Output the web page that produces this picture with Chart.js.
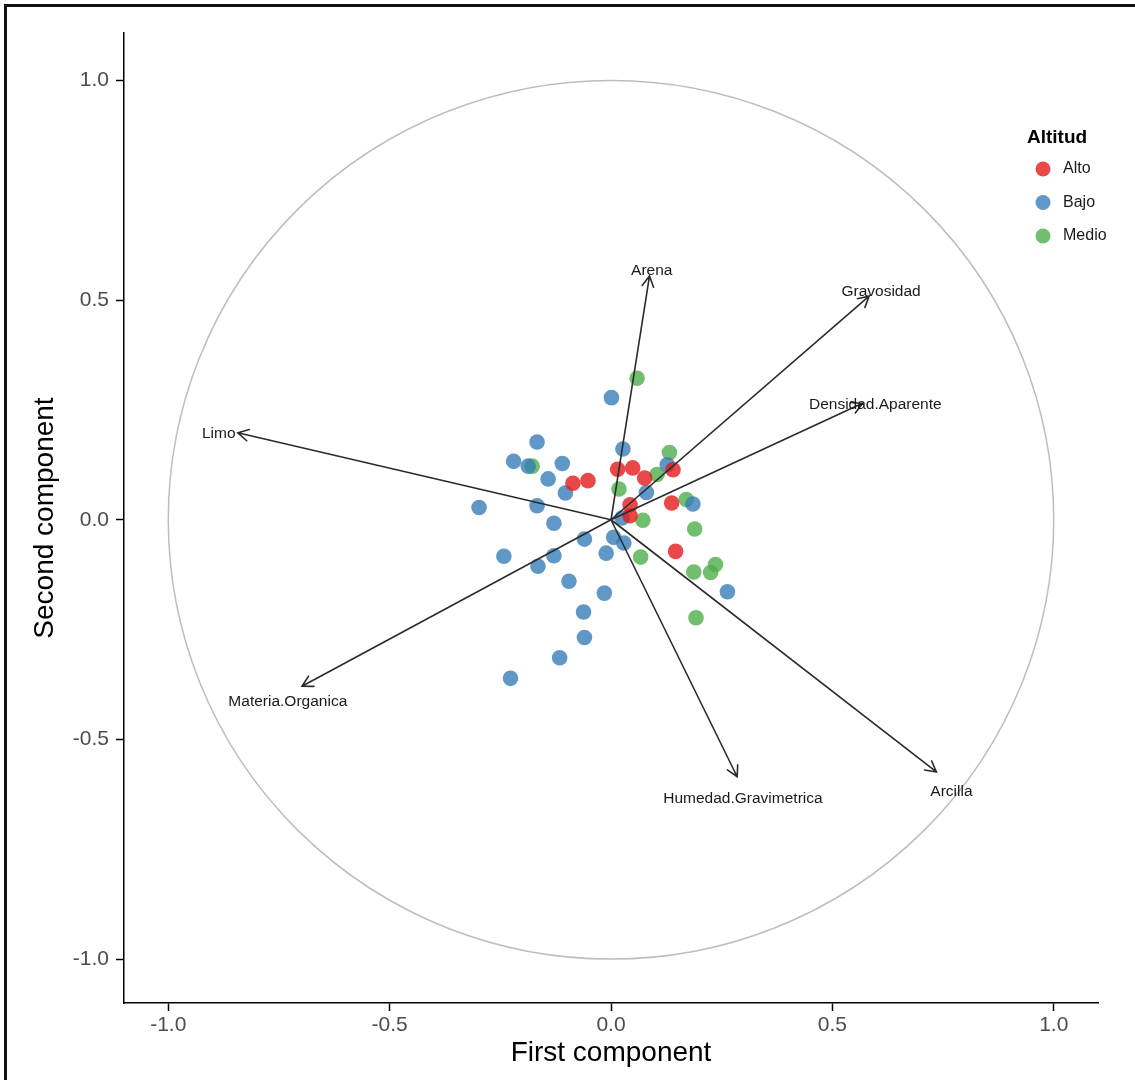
<!DOCTYPE html>
<html>
<head>
<meta charset="utf-8">
<script src="https://cdn.jsdelivr.net/npm/chart.js@4.4.1/dist/chart.umd.min.js"></script>
<style>
  html, body { margin: 0; padding: 0; background: #ffffff; }
  #wrap { width: 1135px; height: 1080px; position: relative; }
</style>
</head>
<body>
<div id="wrap"><canvas id="c" width="1135" height="1080"></canvas></div>
<script>
// PCA scores per altitude group (first / second component)
const altoX = [-0.086, -0.052, 0.015, 0.049, 0.076, 0.140, 0.043, 0.043, 0.137, 0.146];
const altoY = [0.083, 0.089, 0.115, 0.118, 0.095, 0.114, 0.034, 0.009, 0.038, -0.072];

const bajoX = [0.001, -0.167, -0.220, -0.187, -0.110, -0.142, 0.027, 0.127, -0.103, 0.080,
               0.185, -0.298, -0.167, -0.129, 0.025, -0.060, 0.006, 0.029, -0.011, -0.242,
               -0.129, -0.165, -0.095, -0.015, 0.263, -0.062, -0.060, -0.116, -0.227];
const bajoY = [0.278, 0.177, 0.133, 0.122, 0.128, 0.093, 0.161, 0.125, 0.061, 0.062,
               0.036, 0.028, 0.032, -0.008, 0.004, -0.044, -0.040, -0.053, -0.076, -0.083,
               -0.082, -0.106, -0.140, -0.167, -0.164, -0.210, -0.268, -0.314, -0.361];

const medioX = [0.059, -0.178, 0.132, 0.104, 0.018, 0.170, 0.072, 0.189, 0.067, 0.187, 0.225, 0.236, 0.192];
const medioY = [0.322, 0.122, 0.153, 0.103, 0.070, 0.046, -0.001, -0.021, -0.085, -0.119, -0.120, -0.102, -0.223];

// Variable loadings (arrow tips) and where their names sit
const varNames = ['Arena', 'Gravosidad', 'Densidad.Aparente', 'Limo', 'Materia.Organica', 'Humedad.Gravimetrica', 'Arcilla'];
const varX = [0.087, 0.583, 0.568, -0.843, -0.698, 0.285, 0.735];
const varY = [0.555, 0.509, 0.265, 0.198, -0.379, -0.585, -0.574];
const labelX = [0.092, 0.610, 0.597, -0.886, -0.730, 0.298, 0.769];
const labelY = [0.568, 0.519, 0.261, 0.195, -0.415, -0.635, -0.620];

const tickValues = [-1.0, -0.5, 0.0, 0.5, 1.0];

const groupNames = ['Alto', 'Bajo', 'Medio'];
const groupColors = ['rgba(228,26,28,0.8)', 'rgba(55,126,184,0.8)', 'rgba(77,175,74,0.8)'];
const legendTitle = 'Altitud';

const FONT = '"Liberation Sans", Arial, sans-serif';

function toPoints(xs, ys) {
  return xs.map((x, i) => ({ x: x, y: ys[i] }));
}

const decor = {
  id: 'biplotDecor',
  beforeDatasetsDraw(chart) {
    // unit correlation circle
    const { ctx, scales: { x, y } } = chart;
    const cx = x.getPixelForValue(0), cy = y.getPixelForValue(0);
    const rx = x.getPixelForValue(1) - cx, ry = cy - y.getPixelForValue(1);
    ctx.save();
    ctx.strokeStyle = '#bdbdbd';
    ctx.lineWidth = 1.5;
    ctx.beginPath();
    ctx.ellipse(cx, cy, rx, ry, 0, 0, Math.PI * 2);
    ctx.stroke();
    ctx.restore();
  },
  afterDatasetsDraw(chart) {
    // loading arrows with open heads and variable names
    const { ctx, scales: { x, y } } = chart;
    const ox = x.getPixelForValue(0), oy = y.getPixelForValue(0);
    ctx.save();
    ctx.strokeStyle = '#2b2b2b';
    ctx.lineWidth = 1.6;
    ctx.lineCap = 'round';
    varNames.forEach((name, i) => {
      const tx = x.getPixelForValue(varX[i]), ty = y.getPixelForValue(varY[i]);
      const a = Math.atan2(ty - oy, tx - ox);
      const L = 12, w = 0.5;
      ctx.beginPath();
      ctx.moveTo(ox, oy);
      ctx.lineTo(tx, ty);
      ctx.moveTo(tx - L * Math.cos(a - w), ty - L * Math.sin(a - w));
      ctx.lineTo(tx, ty);
      ctx.lineTo(tx - L * Math.cos(a + w), ty - L * Math.sin(a + w));
      ctx.stroke();
    });
    ctx.fillStyle = '#1a1a1a';
    ctx.font = '15.5px ' + FONT;
    ctx.textAlign = 'center';
    ctx.textBaseline = 'middle';
    varNames.forEach((name, i) => {
      ctx.fillText(name, x.getPixelForValue(labelX[i]), y.getPixelForValue(labelY[i]));
    });
    ctx.restore();
  },
  afterDraw(chart) {
    const { ctx } = chart;
    ctx.save();
    // legend
    ctx.fillStyle = '#000';
    ctx.font = 'bold 19px ' + FONT;
    ctx.textAlign = 'left';
    ctx.textBaseline = 'middle';
    ctx.fillText(legendTitle, 1027, 138);
    ctx.font = '16px ' + FONT;
    groupNames.forEach((g, i) => {
      const yy = 169 + i * 33.5;
      ctx.fillStyle = groupColors[i];
      ctx.beginPath();
      ctx.arc(1043, yy, 7.5, 0, Math.PI * 2);
      ctx.fill();
      ctx.fillStyle = '#1a1a1a';
      ctx.fillText(g, 1063, yy);
    });
    // outer frame
    ctx.strokeStyle = '#111';
    ctx.lineWidth = 3;
    ctx.beginPath();
    ctx.moveTo(5.5, 1080);
    ctx.lineTo(5.5, 5.5);
    ctx.lineTo(1135, 5.5);
    ctx.stroke();
    ctx.restore();
  }
};

const axisCommon = (title, pad) => ({
  type: 'linear',
  afterBuildTicks: s => { s.ticks = tickValues.map(v => ({ value: v })); },
  ticks: {
    callback: v => v.toFixed(1),
    font: { family: FONT, size: 21 },
    color: '#4d4d4d',
    autoSkip: false,
    maxRotation: 0
  },
  grid: { drawOnChartArea: false, drawTicks: true, tickLength: 8, tickColor: '#000', tickWidth: 1.5 },
  border: { display: true, color: '#000', width: 1.5 },
  title: { display: true, text: title, color: '#000', font: { family: FONT, size: 28 }, padding: pad }
});

const xAxis = axisCommon('First component', { top: 0, bottom: 10 });
xAxis.min = -1.1; xAxis.max = 1.1;
xAxis.ticks.padding = 2;
xAxis.afterFit = s => { s.height = 77; };

const yAxis = axisCommon('Second component', { top: 28, bottom: 0 });
yAxis.min = -1.1; yAxis.max = 1.108;
yAxis.ticks.padding = 7;
yAxis.afterFit = s => { s.width = 124; };

new Chart(document.getElementById('c'), {
  type: 'scatter',
  data: {
    datasets: [
      { label: groupNames[0], data: toPoints(altoX, altoY), backgroundColor: groupColors[0] },
      { label: groupNames[1], data: toPoints(bajoX, bajoY), backgroundColor: groupColors[1] },
      { label: groupNames[2], data: toPoints(medioX, medioY), backgroundColor: groupColors[2] }
    ]
  },
  options: {
    responsive: false,
    devicePixelRatio: 1,
    animation: false,
    layout: { padding: { top: 33, right: 37, left: 0, bottom: 0 } },
    elements: { point: { radius: 7.8, hoverRadius: 7.8, borderWidth: 0 } },
    plugins: { legend: { display: false }, tooltip: { enabled: false } },
    scales: { x: xAxis, y: yAxis }
  },
  plugins: [decor]
});
</script>
</body>
</html>
